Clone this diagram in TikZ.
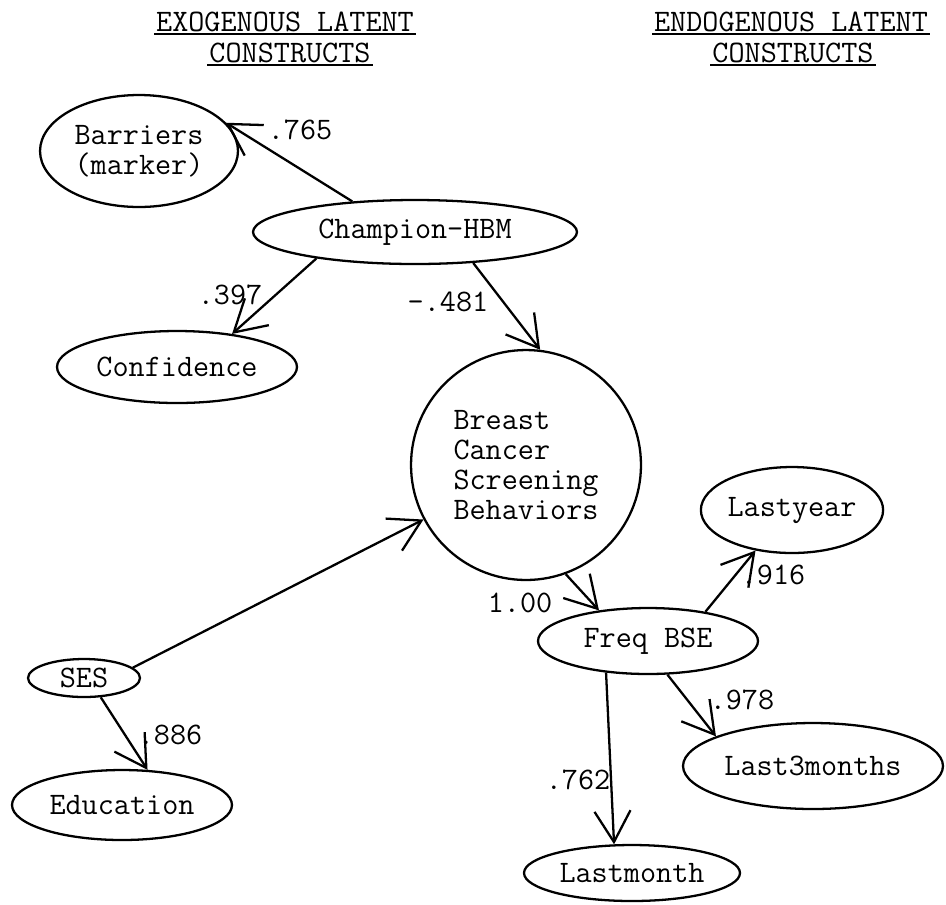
\documentclass[tikz,border=0pt]{standalone}
\usepackage{fontspec}
\usetikzlibrary{shapes.geometric,arrows.meta}
\tikzset{
	every node/.style={font=\ttfamily\fontsize{17.8}{17}\selectfont},
	construct/.style={draw, ellipse, line width=1.3pt, inner sep=0pt, align=center},
	effect/.style={line width=1.3pt, -{Straight Barb[length=0.62cm,width=0.72cm]}},
	coef/.style={inner sep=1pt},
	uline/.style={line width=1.5pt},
}

\begin{document}
\begin{tikzpicture}[x=0.02cm, y=-0.02cm]
		%%%%% START %%%%%
		\useasboundingbox (0, 0) rectangle (946, 904);
		
		% headings
		\node[inner sep=1pt] (exo1) at (285, 22) {EXOGENOUS LATENT};
		\node[inner sep=1pt] (exo2) at (290, 53) {CONSTRUCTS};
		\node[inner sep=1pt] (endo1) at (791, 22) {ENDOGENOUS LATENT};
		\node[inner sep=1pt] (endo2) at (793, 53) {CONSTRUCTS};
		\draw[uline] (exo1.south west) -- (exo1.south east);
		\draw[uline] (exo2.south west) -- (exo2.south east);
		\draw[uline] (endo1.south west) -- (endo1.south east);
		\draw[uline] (endo2.south west) -- (endo2.south east);
		
		% exogenous side
		\node[construct, minimum width=3.96cm, minimum height=2.24cm] (barriers) at (139, 151) {Barriers\\(marker)};
		\node[construct, minimum width=6.48cm, minimum height=1.28cm] (champion) at (415, 232) {Champion-HBM};
		\node[construct, minimum width=4.8cm, minimum height=1.44cm] (confidence) at (177, 367) {Confidence};
		\node[construct, minimum width=2.24cm, minimum height=0.76cm] (ses) at (84, 678) {SES};
		\node[construct, minimum width=4.4cm, minimum height=1.4cm] (education) at (122, 805) {Education};
		
		% endogenous side
		\node[draw, circle, line width=1.3pt, inner sep=0pt, minimum size=4.6cm, align=left] (bcsb) at (526, 465) {Breast\\Cancer\\Screening\\Behaviors};
		\node[construct, minimum width=4.4cm, minimum height=1.32cm] (freq) at (648, 641) {Freq BSE};
		\node[construct, minimum width=3.48cm, minimum height=1.72cm] (lastyear) at (792, 510) {Lastyear};
		\node[construct, minimum width=5.2cm, minimum height=1.72cm] (last3m) at (813, 766) {Last3months};
		\node[construct, minimum width=4.32cm, minimum height=1.12cm] (lastmonth) at (632, 873) {Lastmonth};
		
		% paths
		\draw[effect] (champion.154) -- (barriers.18);
		\draw[effect] (champion.195) -- (confidence.31);
		\draw[effect] (champion.332) -- (bcsb.83);
		\draw[effect] (ses.12) -- (bcsb.208);
		\draw[effect] (ses.311) -- (education.54);
		\draw[effect] (bcsb.290) -- (freq.148);
		\draw[effect] (freq.27) -- (lastyear.228);
		\draw[effect] (freq.300) -- (last3m.163);
		\draw[effect] (freq.217) -- (lastmonth.122);
		
		% coefficients
		\node[coef] (c765) at (300, 130) {.765};
		\node[coef] (c397) at (230, 295) {.397};
		\node[coef] (c481) at (448, 302) {-.481};
		\node[coef] (c100) at (520, 603) {1.00};
		\node[coef] (c916) at (773, 575) {.916};
		\node[coef] (c978) at (742, 700) {.978};
		\node[coef] (c886) at (170, 735) {.886};
		\node[coef] (c762) at (578, 780) {.762};
		
		%%%%% END %%%%%
\end{tikzpicture}
\end{document}
